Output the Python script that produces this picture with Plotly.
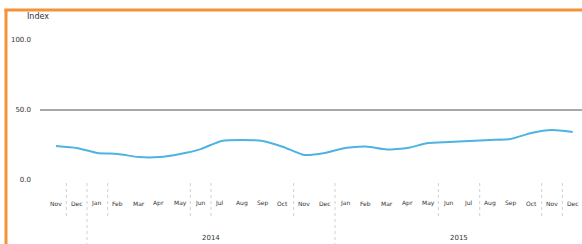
import plotly.graph_objects as go

# ---- data ----
# month index: 0 = Jan 2014 (value plotted at mid-month)
month_index = list(range(-2, 24))
month_names = ["Nov", "Dec"] + ["Jan", "Feb", "Mar", "Apr", "May", "Jun",
                                "Jul", "Aug", "Sep", "Oct", "Nov", "Dec"] * 2
index_values = [24.3, 22.9, 19.3, 18.6, 16.4, 16.4, 18.6, 22.1, 27.9, 28.6,
                27.9, 23.6, 17.9, 19.3, 22.9, 23.9, 21.8, 22.9, 26.4, 27.1,
                27.9, 28.6, 29.3, 33.6, 35.7, 34.3]
y_tick_vals = [0, 50, 100]
y_tick_text = ["0.0", "50.0", "100.0"]
reference_level = 50
year_labels = ["2014", "2015"]
year_mid = [6, 18]
marker_months_short = [-1, 1, 5, 6, 10, 17, 19, 22, 23]
marker_months_long = [0, 12]

# ---- layout geometry ----
W, H = 582, 244
L, R, T, B = 32, 0, 20, 0
PW, PH = W - L - R, H - T - B
X0, X1 = -2.661, 23.95
Y0, Y1 = -45.7, 114.3


def px(xp):
    return (xp - L) / PW


def py(yp):
    return 1 - (yp - T) / PH


ORANGE = "#F39237"
BLUE = "#4DB3E1"
TXT = "#333333"

fig = go.Figure()
fig.add_trace(go.Scatter(
    x=[m + 0.5 for m in month_index], y=index_values, mode="lines",
    line=dict(color=BLUE, width=2, shape="spline", smoothing=0.5),
    hoverinfo="skip", showlegend=False))

shapes = []
# reference line
shapes.append(dict(type="line", xref="paper", yref="y", x0=px(40), x1=px(582),
                   y0=reference_level, y1=reference_level,
                   line=dict(color="#A8A8A8", width=2)))
# dashed markers
y_top = (180 - 183) / 1.4
y_short = (180 - 218) / 1.4
for m in marker_months_short:
    shapes.append(dict(type="line", xref="x", yref="y", x0=m, x1=m, y0=y_top, y1=y_short,
                       line=dict(color="#D0D0D0", width=1, dash="dot")))
for m in marker_months_long:
    shapes.append(dict(type="line", xref="x", yref="y", x0=m, x1=m, y0=y_top, y1=Y0,
                       line=dict(color="#D0D0D0", width=1, dash="dot")))
# orange frame
shapes.append(dict(type="line", xref="paper", yref="paper", x0=px(6), x1=px(6),
                   y0=py(9), y1=py(246), line=dict(color=ORANGE, width=3)))
shapes.append(dict(type="line", xref="paper", yref="paper", x0=px(4.5), x1=px(584),
                   y0=py(10), y1=py(10), line=dict(color=ORANGE, width=3)))

annotations = []
y_month = (180 - 203) / 1.4
for m, name in zip(month_index, month_names):
    annotations.append(dict(x=m + 0.12, y=y_month, xref="x", yref="y", text=name,
                            showarrow=False, xanchor="left", yanchor="middle",
                            font=dict(size=6, color=TXT)))
y_year = (180 - 238) / 1.4
for m, name in zip(year_mid, year_labels):
    annotations.append(dict(x=m, y=y_year, xref="x", yref="y", text=name,
                            showarrow=False, xanchor="center", yanchor="middle",
                            font=dict(size=7, color=TXT)))
annotations.append(dict(x=px(25), y=py(17), xref="paper", yref="paper", text="Index",
                        showarrow=False, xanchor="left", yanchor="middle",
                        font=dict(size=8, color=TXT)))

fig.update_layout(
    width=W, height=H, margin=dict(l=L, r=R, t=T, b=B, pad=0),
    paper_bgcolor="white", plot_bgcolor="white",
    font=dict(family="DejaVu Sans", color=TXT),
    xaxis=dict(range=[X0, X1], showgrid=False, zeroline=False, showticklabels=False,
               showline=False, fixedrange=True),
    yaxis=dict(range=[Y0, Y1], showgrid=False, zeroline=False, tickvals=y_tick_vals,
               ticktext=y_tick_text, tickfont=dict(size=7, color=TXT), ticks="",
               showline=False, fixedrange=True),
    shapes=shapes, annotations=annotations, showlegend=False,
)

fig.write_html("out.html", config={"displayModeBar": False},
               post_script="document.body.style.margin='0px';document.body.style.overflow='hidden';")
